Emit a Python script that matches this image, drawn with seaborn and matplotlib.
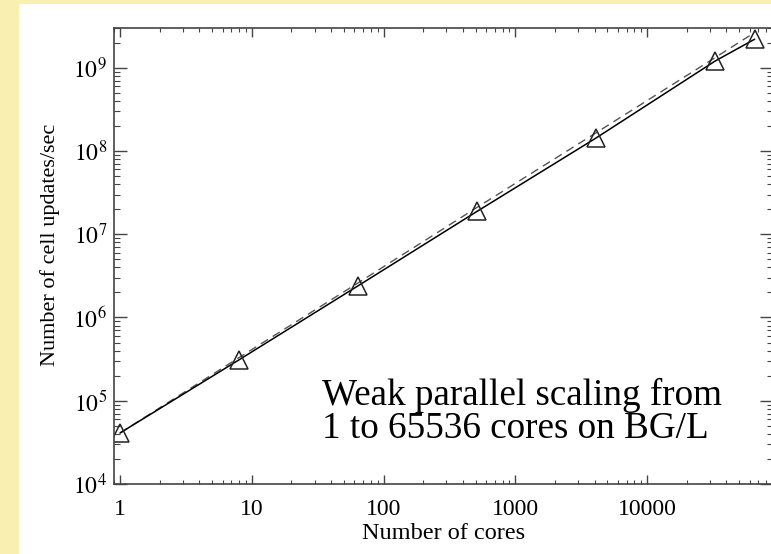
import matplotlib
matplotlib.use("Agg")
import matplotlib.pyplot as plt
import matplotlib.ticker as mticker
from matplotlib.patches import Rectangle
import numpy as np
import pandas as pd
import seaborn as sns

# Weak-scaling benchmark on BG/L
cores = [1, 8, 64, 512, 4096, 32768, 65536]
updates_per_sec = [4.1e4, 3.1e5, 2.4e6, 1.88e7, 1.43e8, 1.2e9, 2.2e9]
ideal_updates = [4.1e4, 3.3e5, 2.6e6, 2.1e7, 1.65e8, 1.32e9, 2.65e9]

x_ticks = [1, 10, 100, 1000, 10000]
x_tick_labels = ["1", "10", "100", "1000", "10000"]
y_ticks = [1e4, 1e5, 1e6, 1e7, 1e8, 1e9]
y_tick_labels = [r"$10^{4}$", r"$10^{5}$", r"$10^{6}$", r"$10^{7}$", r"$10^{8}$", r"$10^{9}$"]

measured = pd.DataFrame({"cores": cores, "rate": updates_per_sec})
ideal = pd.DataFrame({"cores": cores, "rate": ideal_updates})

sns.set_theme(style="ticks")
plt.rcParams["font.family"] = ["Liberation Serif", "DejaVu Serif"]
plt.rcParams["mathtext.fontset"] = "stix"
plt.rcParams["text.color"] = "black"
plt.rcParams["axes.labelcolor"] = "black"

W, H = 771, 554
fig = plt.figure(figsize=(W / 100, H / 100), dpi=100, facecolor="#f9efb0")
fig.add_artist(Rectangle((19 / W, 0), 1, 1 - 4 / H, transform=fig.transFigure,
                         facecolor="white", edgecolor="none", zorder=-10))

ax = fig.add_axes([114 / W, (H - 484) / H, 658.8 / W, 456 / H])
ax.set_zorder(1)
ax.set_facecolor("white")

sns.lineplot(data=ideal, x="cores", y="rate", ax=ax, color="#555555",
             linewidth=1.0, linestyle=(0, (6, 4)))
sns.lineplot(data=measured, x="cores", y="rate", ax=ax, color="black",
             linewidth=1.1, marker="^", markersize=13, markerfacecolor="none",
             markeredgecolor="#222222", markeredgewidth=1.1)

ax.set_xscale("log")
ax.set_yscale("log")
ax.set_xlim(0.9, 9e4)
ax.set_ylim(1e4, 3e9)

ax.xaxis.set_major_locator(mticker.FixedLocator(x_ticks))
ax.xaxis.set_major_formatter(mticker.FixedFormatter(x_tick_labels))
ax.yaxis.set_major_locator(mticker.FixedLocator(y_ticks))
ax.yaxis.set_major_formatter(mticker.FixedFormatter(y_tick_labels))
ax.xaxis.set_minor_locator(mticker.LogLocator(base=10, subs=np.arange(2, 10), numticks=20))
ax.yaxis.set_minor_locator(mticker.LogLocator(base=10, subs=np.arange(2, 10), numticks=20))
ax.xaxis.set_minor_formatter(mticker.NullFormatter())
ax.yaxis.set_minor_formatter(mticker.NullFormatter())

spine_col = "#444444"
for s in ax.spines.values():
    s.set_visible(True)
    s.set_color(spine_col)
    s.set_linewidth(1.2)

ax.tick_params(which="both", direction="in", top=True, right=True,
               colors=spine_col, labelcolor="black", labelsize=17)
ax.tick_params(axis="x", which="major", length=6.5, width=1.0, pad=11)
ax.tick_params(axis="x", which="minor", length=3.0, width=0.8)
ax.tick_params(axis="y", which="major", length=9.4, width=1.0, pad=5)
ax.tick_params(axis="y", which="minor", length=4.3, width=0.8)

ax.set_xlabel("Number of cores", fontsize=17.5, labelpad=2)
ax.set_ylabel("Number of cell updates/sec", fontsize=16)
ax.yaxis.set_label_coords(-0.082, 0.524)

fig.text(322 / W, 1 - 405 / H, "Weak parallel scaling from", fontsize=26.7,
         ha="left", va="baseline")
fig.text(322 / W, 1 - 438 / H, "1 to 65536 cores on BG/L", fontsize=26.7,
         ha="left", va="baseline")

fig.savefig("out.png", dpi=100, facecolor=fig.get_facecolor())
